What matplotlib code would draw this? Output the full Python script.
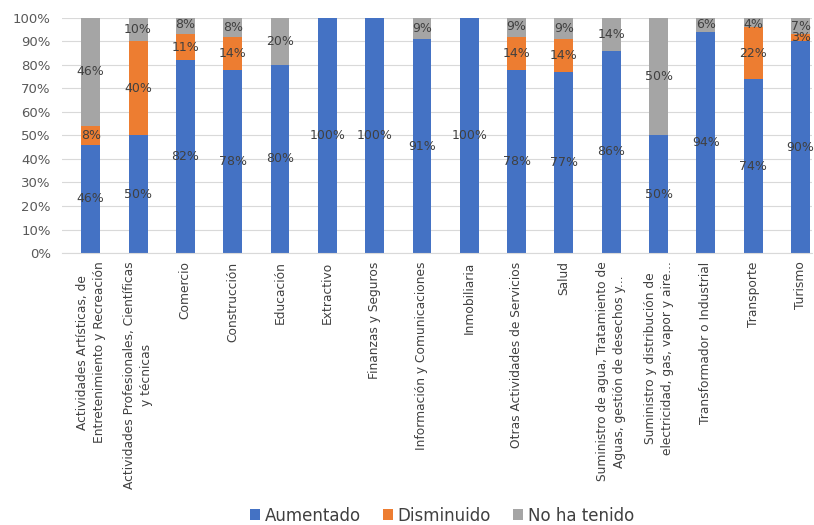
import matplotlib.pyplot as plt
import numpy as np
from matplotlib.ticker import PercentFormatter

# Datos
categorias = [
    "Actividades Artísticas, de\nEntretenimiento y Recreación",
    "Actividades Profesionales, Científicas\ny técnicas",
    "Comercio",
    "Construcción",
    "Educación",
    "Extractivo",
    "Finanzas y Seguros",
    "Información y Comunicaciones",
    "Inmobiliaria",
    "Otras Actividades de Servicios",
    "Salud",
    "Suministro de agua, Tratamiento de\nAguas, gestión de desechos y...",
    "Suministro y distribución de\nelectricidad, gas, vapor y aire...",
    "Transformador o Industrial",
    "Transporte",
    "Turismo",
]
aumentado = [46, 50, 82, 78, 80, 100, 100, 91, 100, 78, 77, 86, 50, 94, 74, 90]
disminuido = [8, 40, 11, 14, 0, 0, 0, 0, 0, 14, 14, 0, 0, 0, 22, 3]
no_ha_tenido = [46, 10, 8, 8, 20, 0, 0, 9, 0, 9, 9, 14, 50, 6, 4, 7]

series = [
    ("Aumentado", aumentado, "#4472C4"),
    ("Disminuido", disminuido, "#ED7D31"),
    ("No ha tenido", no_ha_tenido, "#A5A5A5"),
]

fig = plt.figure(figsize=(8.14, 5.25), dpi=100)
ax = fig.add_axes([0.076, 0.518, 0.922, 0.448])

x = np.arange(len(categorias))
base = np.zeros(len(categorias))
for nombre, valores, color in series:
    v = np.array(valores, dtype=float)
    bars = ax.bar(x, v, width=0.4, bottom=base, color=color, label=nombre, zorder=2)
    for b, val in zip(bars, v):
        if val > 0:
            cy = min(b.get_y() + b.get_height() / 2, 97)
            ax.text(b.get_x() + b.get_width() / 2, cy, f"{int(val)}%",
                    ha="center", va="center", fontsize=9, color="#404040", zorder=3)
    base += v

ax.set_ylim(0, 100)
ax.set_xlim(-0.61, 15.25)
ax.set_yticks(np.arange(0, 101, 10))
ax.yaxis.set_major_formatter(PercentFormatter(decimals=0))
ax.tick_params(axis="y", length=0, labelsize=9.5, labelcolor="#595959", pad=8)
ax.tick_params(axis="x", length=0, labelsize=8.8, labelcolor="#404040", pad=6)
ax.set_xticks(x)
ax.set_xticklabels(categorias, rotation=90, ha="center", va="top",
                   multialignment="center", linespacing=1.4)
ax.grid(axis="y", color="#D9D9D9", linewidth=0.8, zorder=0)
for s in ["top", "right", "left"]:
    ax.spines[s].set_visible(False)
ax.spines["bottom"].set_color("#D9D9D9")

ax.legend(loc="center", bbox_to_anchor=(0.543, 0.018), bbox_transform=fig.transFigure,
          ncol=3, frameon=False, fontsize=12, handlelength=0.6, handleheight=0.6,
          columnspacing=1.3, handletextpad=0.3, labelcolor="#404040")

fig.savefig("out.png", dpi=100)
